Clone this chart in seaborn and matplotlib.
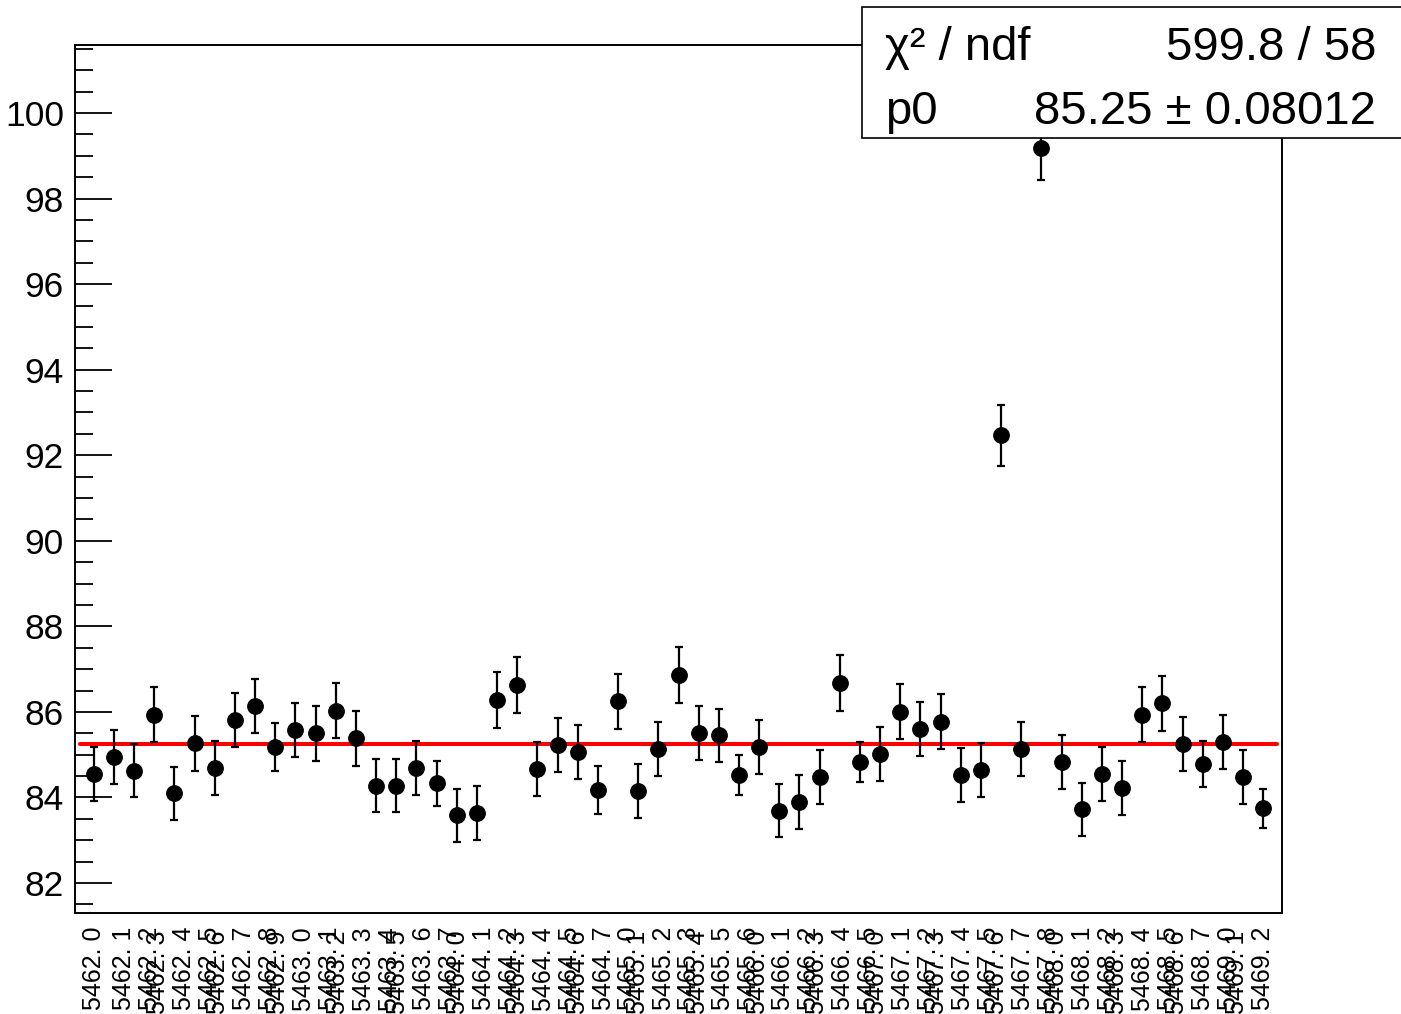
import numpy as np
import matplotlib.pyplot as plt
import matplotlib.patches as mpatches
import seaborn as sns

sns.set_style("ticks")
plt.rcParams['font.family'] = ['Liberation Sans', 'DejaVu Sans']
plt.rcParams['text.color'] = 'black'
plt.rcParams['axes.edgecolor'] = 'black'
plt.rcParams['ytick.color'] = 'black'
plt.rcParams['xtick.color'] = 'black'

# run / subrun labels on the x axis
run_ids = [5462, 5463, 5464, 5465, 5466, 5467, 5468, 5469]
n_subruns = [10, 8, 8, 7, 6, 9, 8, 3]

values = [84.54, 84.95, 84.63, 85.94, 84.10, 85.27, 84.70, 85.81, 86.14, 85.19,
          85.58, 85.50, 86.03, 85.38, 84.28, 84.27, 84.70, 84.33, 83.58, 83.63,
          86.28, 86.63, 84.67, 85.22, 85.07, 84.17, 86.25, 84.15, 85.13, 86.86,
          85.51, 85.45, 84.52, 85.17, 83.69, 83.90, 84.47, 86.67, 84.83, 85.02,
          86.01, 85.60, 85.77, 84.52, 84.64, 92.47, 85.13, 99.18, 84.84, 83.72,
          84.55, 84.23, 85.94, 86.20, 85.24, 84.78, 85.30, 84.47, 83.75]
errors = [0.63, 0.63, 0.63, 0.64, 0.62, 0.64, 0.63, 0.64, 0.63, 0.56,
          0.64, 0.64, 0.64, 0.64, 0.63, 0.62, 0.63, 0.52, 0.63, 0.63,
          0.65, 0.65, 0.63, 0.63, 0.63, 0.56, 0.64, 0.63, 0.63, 0.65,
          0.63, 0.63, 0.47, 0.63, 0.62, 0.63, 0.63, 0.65, 0.47, 0.63,
          0.64, 0.64, 0.64, 0.63, 0.63, 0.71, 0.63, 0.75, 0.63, 0.63,
          0.63, 0.63, 0.64, 0.64, 0.63, 0.53, 0.63, 0.63, 0.46]

# fit result (pol0)
chi2_ndf = "599.8 / 58"
p0 = 85.25
p0_err = 0.08012

labels = []
for r, n in zip(run_ids, n_subruns):
    for s in range(n):
        labels.append("%d. %d" % (r, s))

x = np.arange(len(values))

fig = plt.figure(figsize=(14.01, 10.14), dpi=100)
ax = fig.add_axes([75/1401, 1-913/1014, 1207/1401, 868/1014])

# fit line
sns.lineplot(x=[x[0]-0.7, x[-1]+0.7], y=[p0, p0], color='red', linewidth=2.9, ax=ax, zorder=2)
ax.errorbar(x, values, yerr=errors, fmt='none', ecolor='black', elinewidth=1.6,
            capsize=3, capthick=1.6, zorder=2.5)
sns.scatterplot(x=x, y=values, color='black', edgecolor='black', s=125, ax=ax, zorder=3)

ax.set_xlim(-0.93, len(values)-1+0.93)
ax.set_ylim(81.30, 101.59)
ax.set_yticks(np.arange(82, 101, 2))
ax.set_yticks(np.arange(81.5, 101.6, 0.5), minor=True)
ax.tick_params(axis='y', which='major', direction='in', length=26.5, width=1.3,
               labelsize=25.5, pad=8)
ax.tick_params(axis='y', which='minor', direction='in', length=13, width=1.3)
ax.set_xticks([])
for sp in ax.spines.values():
    sp.set_linewidth(1.4)

# bin labels: groups of three labels share two columns
ncol = 40
step = (x[-1] - x[0]) / (ncol - 1)
for i, lab in enumerate(labels):
    if i < 2:
        col, off, dy = i, 0.0, 0.0
    else:
        k = i - 2
        col = 2 + (k // 3) * 2 + (1 if k % 3 == 2 else 0)
        off = {0: -0.2, 1: 0.2, 2: 0.0}[k % 3]
        dy = {0: 0.0, 1: -0.004, 2: 0.0}[k % 3]
    xp = x[0] + col * step + off
    ax.text(xp, -0.016 + dy, lab, rotation=90, ha='center', va='top', fontsize=18,
            transform=ax.get_xaxis_transform())

# stats box
box = mpatches.Rectangle((862/1401, 1-138/1014), 0.5, 131/1014, transform=fig.transFigure,
                         facecolor='white', edgecolor='black', linewidth=1.2, zorder=10)
fig.add_artist(box)
fig.text(885/1401, 1-60/1014, "χ² / ndf", fontsize=34, va='baseline', ha='left', zorder=11)
fig.text(1376/1401, 1-60/1014, chi2_ndf, fontsize=34, va='baseline', ha='right', zorder=11)
fig.text(885/1401, 1-124/1014, "p0", fontsize=34, va='baseline', ha='left', zorder=11)
fig.text(1376/1401, 1-124/1014, "%.2f ± %.5f" % (p0, p0_err), fontsize=34, va='baseline',
         ha='right', zorder=11)

fig.savefig("out.png", dpi=100)
